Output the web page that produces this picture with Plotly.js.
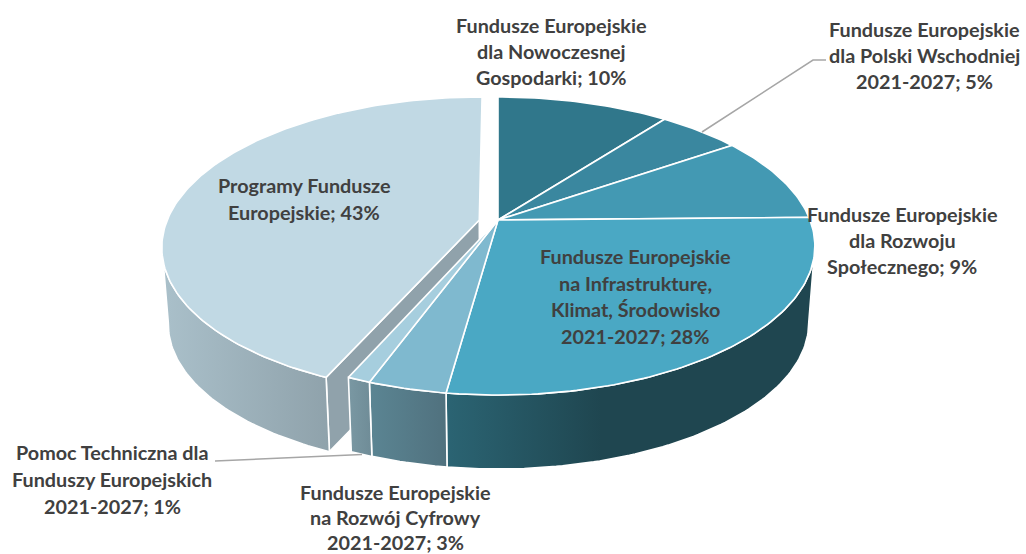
<!DOCTYPE html>
<html>
<head>
<meta charset="utf-8">
<script src="https://cdn.plot.ly/plotly-3.0.1.min.js"></script>
<style>html,body{margin:0;padding:0;background:#fff}</style>
</head>
<body>
<div id="chart" style="width:1026px;height:554px"></div>
<script>
// ---- data (clockwise from 12 o'clock; rounded shares are in the labels) ----
const categories = ["Nowoczesna Gospodarka","Polska Wschodnia","Rozwój Społeczny","Infrastruktura, Klimat, Środowisko","Rozwój Cyfrowy","Pomoc Techniczna","Programy"];
const values = [10.4, 5.0, 9.3, 27.5, 3.4, 1.0, 43.4];
const faceColors = ["#30778b","#3a879f","#4399b3","#4aa8c4","#7fb9cf","#a6cede","#c1d9e4"];
const wallColors = [null,null,null,["#2b6473","#1f4650"],["#5b8593","#50717e"],["#7a98a3","#6f8c97"],["#aac0ca","#8fa2ab"]];
const innerWallColor = "#90a2ab";
const labelLines = [
  ["Fundusze Europejskie","dla Nowoczesnej","Gospodarki; 10%"],
  ["Fundusze Europejskie","dla Polski Wschodniej","2021-2027; 5%"],
  ["Fundusze Europejskie","dla Rozwoju","Społecznego; 9%"],
  ["Fundusze Europejskie","na Infrastrukturę,","Klimat, Środowisko","2021-2027; 28%"],
  ["Fundusze Europejskie","na Rozwój Cyfrowy","2021-2027; 3%"],
  ["Pomoc Techniczna dla","Funduszy Europejskich","2021-2027; 1%"],
  ["Programy Fundusze","Europejskie; 43%"]
];
const labelX = [551, 924, 902, 635, 395, 112, 304];
const labelY = [25, 29, 214, 256, 492, 452, 185];
const labelStep = [26, 26, 26, 26.6, 25.2, 27, 27];
const leaderLines = [
  {x:[702,813,826], y:[132,60,60]},
  {x:[215,362], y:[461,454.5]}
];

// ---- perspective model of the tilted disc ----
const view = {x0:498, k:0.1745};
const topRing = {R:312, S:144.5, Y:220};
const lowRing = {R:306, S:142, Y:297};
const explode = [0,0,0,0,0,0,-0.06];      // plane offset of each slice
const frontFrom = 100, sideTo = 260;      // silhouette tangent angles (deg)

function proj(deg, ring, du, r){
  const t = deg*Math.PI/180, u = r*Math.sin(t), v = r*Math.cos(t), w = 1 + view.k*v;
  return [view.x0 + ring.R*(u+du)/w, ring.Y - ring.S*v/w];
}
function arc(a, b, ring, du){
  const pts = [], n = Math.max(2, Math.ceil(Math.abs(b-a)));
  for(let i=0;i<=n;i++) pts.push(proj(a+(b-a)*i/n, ring, du, 1));
  return pts;
}
function poly(pts, color, extra){
  const xs = pts.map(p=>p[0]).concat(pts[0][0]);
  const ys = pts.map(p=>p[1]).concat(pts[0][1]);
  return Object.assign({type:"scatter", mode:"lines", x:xs, y:ys, fill:"toself",
    fillcolor:color, line:{color:"#ffffff", width:1.6}, hoverinfo:"skip", showlegend:false}, extra||{});
}

const total = values.reduce((a,b)=>a+b,0);
let acc = 0;
const edges = values.map(v=>{const a=acc; acc+=v; return [a/total*360, acc/total*360];});

const traces = [];
function wall(i, a, b){
  const c = wallColors[i], du = explode[i];
  const pts = arc(a,b,topRing,du).concat(arc(b,a,lowRing,du));
  const xs = pts.map(p=>p[0]);
  traces.push(poly(pts, c[0], {fillgradient:{type:"horizontal",
    colorscale: a<180 ? [[0,c[0]],[0.42,c[1]],[1,c[1]]] : [[0,c[0]],[1,c[1]]],
    start:Math.min(...xs), stop:Math.max(...xs)}}));
}
function face(i){
  const [a,b] = edges[i], du = explode[i];
  traces.push(poly([proj(0,topRing,du,0)].concat(arc(a,b,topRing,du)), faceColors[i]));
}
// exploded slice first (it sits behind the front slices)
const p = 6, [pa,pb] = edges[p], du = explode[p];
traces.push(poly([proj(0,topRing,du,0),proj(pa,topRing,du,1),proj(pa,lowRing,du,1),proj(0,lowRing,du,0)], innerWallColor));
wall(p, pa, sideTo);
face(p);
// front walls
wall(3, frontFrom, edges[3][1]);
wall(4, edges[4][0], edges[4][1]);
wall(5, edges[5][0], edges[5][1]);
// remaining faces
[0,1,2,3,4,5].forEach(face);
// leader lines
leaderLines.forEach(l=>traces.push({type:"scatter",mode:"lines",x:l.x,y:l.y,
  line:{color:"#a6a6a6",width:1.5},hoverinfo:"skip",showlegend:false}));

const annotations = [];
labelLines.forEach((lines,i)=>lines.forEach((t,j)=>annotations.push({
  x:labelX[i], y:labelY[i]+j*labelStep[i], xref:"x", yref:"y", text:"<b>"+t+"</b>",
  showarrow:false, xanchor:"center", yanchor:"middle",
  font:{family:"Lato, sans-serif", size:19.8, color:"#404040"}
})));

Plotly.newPlot("chart", traces, {
  width:1026, height:554, margin:{l:0,r:0,t:0,b:0},
  paper_bgcolor:"#ffffff", plot_bgcolor:"#ffffff", showlegend:false,
  xaxis:{range:[0,1026],visible:false,fixedrange:true},
  yaxis:{range:[554,0],visible:false,fixedrange:true},
  annotations
},{displayModeBar:false,staticPlot:true});
</script>
</body>
</html>
